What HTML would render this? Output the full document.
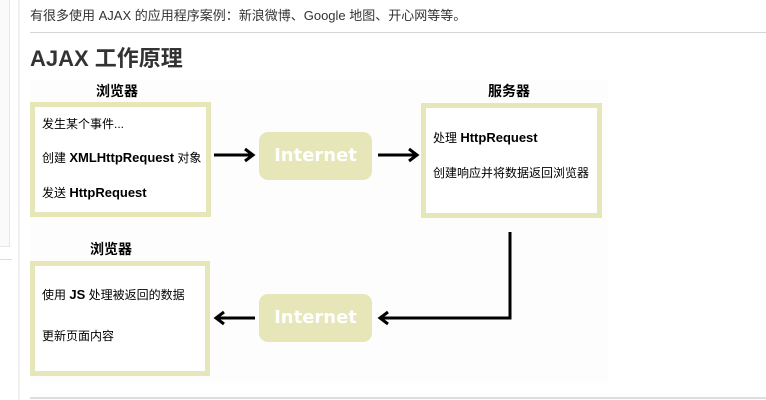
<!DOCTYPE html>
<html><head><meta charset="utf-8"><style>
body{margin:0;width:766px;height:400px;background:#fff;position:relative;overflow:hidden;font-family:"Liberation Sans","Noto Sans CJK SC",sans-serif}
.a{position:absolute}
.box{position:absolute;border:5px solid #e6e6b8;background:#fff;box-sizing:border-box;font-family:"Liberation Sans","Noto Sans CJK SC",sans-serif;font-size:12px;color:#000}
.box div{position:absolute;left:7px;white-space:nowrap}
.box b{font-size:13px}
.lbl{position:absolute;font-weight:bold;font-size:14px;font-family:"Noto Sans CJK SC",sans-serif;transform:translateX(-50%);white-space:nowrap}
.net{position:absolute;width:113px;height:48px;background:#e6e6b8;border-radius:9px;color:#fff;font-weight:bold;font-size:18px;font-family:"DejaVu Sans",sans-serif;text-align:center;line-height:48px}
</style></head><body>
<div class="a" style="left:0;top:0;width:9px;height:246px;border-right:1px solid #e8e8e8;border-bottom:1px solid #e8e8e8;background:#fafafa"></div>
<div class="a" style="left:0;top:259px;width:12px;height:1px;background:#ddd"></div>
<div class="a" style="left:18px;top:0;width:2px;height:400px;background:#f0f0f0"></div>
<div class="a" style="left:30px;top:5px;font-size:13px;color:#333;white-space:nowrap">有很多使用 AJAX 的应用程序案例：新浪微博、Google 地图、开心网等等。</div>
<div class="a" style="left:30px;top:32px;width:736px;height:1px;background:#d4d4d4"></div>
<div class="a" style="left:30px;top:41px;font-size:22px;font-weight:bold;color:#333;white-space:nowrap">AJAX 工作原理</div>
<div class="a" style="left:30px;top:80px;width:578px;height:303px;background:#fdfdfd"></div>
<div class="a" style="left:30px;top:397px;width:736px;height:2px;background:#ddd"></div>

<div class="lbl" style="left:117px;top:81px">浏览器</div>
<div class="box" style="left:30px;top:102px;width:181px;height:115px">
<div style="top:8px">发生某个事件...</div>
<div style="top:42px">创建 <b>XMLHttpRequest</b> 对象</div>
<div style="top:77px">发送 <b>HttpRequest</b></div></div>

<div class="lbl" style="left:509px;top:81px">服务器</div>
<div class="box" style="left:421px;top:103px;width:181px;height:115px">
<div style="top:21px">处理 <b>HttpRequest</b></div>
<div style="top:56px">创建响应并将数据返回浏览器</div></div>

<div class="lbl" style="left:111px;top:239px">浏览器</div>
<div class="box" style="left:30px;top:261px;width:180px;height:115px">
<div style="top:20px">使用 <b>JS</b> 处理被返回的数据</div>
<div style="top:61px">更新页面内容</div></div>

<div class="net" style="left:259px;top:132px">Internet</div>
<div class="net" style="left:259px;top:294px">Internet</div>

<svg class="a" style="left:0;top:0" width="766" height="400">
<g stroke="#000" stroke-width="3" fill="none">
<line x1="214" y1="155" x2="252" y2="155"/><polyline points="245,149 253,155 245,161"/>
<line x1="378" y1="155" x2="416" y2="155"/><polyline points="409,149 417,155 409,161"/>
<polyline points="510,232 510,318 381,318"/><polyline points="388,312 380,318 388,324"/>
<line x1="255" y1="318" x2="217" y2="318"/><polyline points="224,312 216,318 224,324"/>
</g></svg>
</body></html>
